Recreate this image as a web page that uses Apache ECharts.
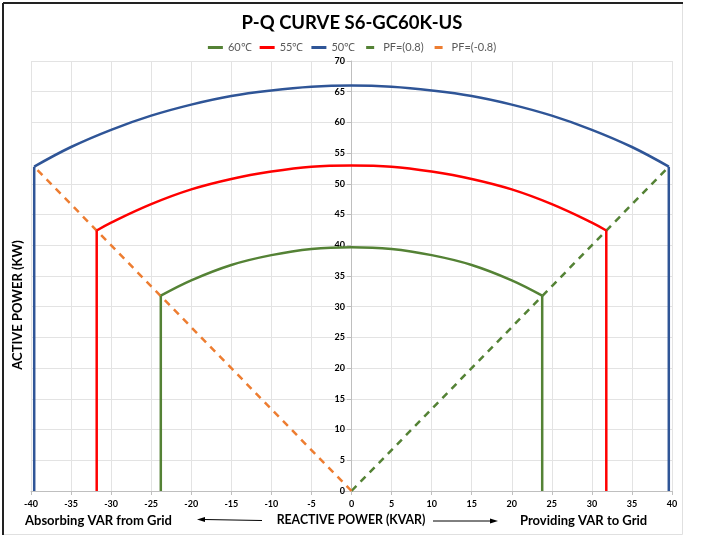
<!DOCTYPE html>
<html><head><meta charset="utf-8">
<script src="https://cdn.jsdelivr.net/npm/echarts@6/dist/echarts.min.js"></script>
<style>html,body{margin:0;padding:0;background:#fff}#c{width:704px;height:538px}</style>
</head><body><div id="c"></div>
<script>
// Tick labels
const xTicks = [-40,-35,-30,-25,-20,-15,-10,-5,0,5,10,15,20,25,30,35,40];
const yTicks = [0,5,10,15,20,25,30,35,40,45,50,55,60,65,70];

// Arc points (reactive power Q, active power P)
const q60 = [-23.8,-20,-15,-10,-5,0,5,10,15,20,23.8];
const p60 = [31.8,34.3,36.8,38.4,39.4,39.7,39.4,38.4,36.8,34.3,31.8];
const q55 = [-31.8,-30,-25,-20,-15,-10,-5,0,5,10,15,20,25,30,31.8];
const p55 = [42.4,43.7,46.7,49.1,50.8,52.0,52.8,53.0,52.8,52.0,50.8,49.1,46.7,43.7,42.4];
const q50 = [-39.6,-35,-30,-25,-20,-15,-10,-5,0,5,10,15,20,25,30,35,39.6];
const p50 = [52.8,56.0,58.8,61.1,62.9,64.3,65.2,65.8,66.0,65.8,65.2,64.3,62.9,61.1,58.8,56.0,52.8];

// Vertical limit lines
const v60 = {q:23.8, p:31.8};
const v55 = {q:31.8, p:42.4};
const v50 = {q:39.6, p:52.8};

// Power-factor lines
const pfPos = [[0,0],[39.6,52.8]];
const pfNeg = [[0,0],[-39.6,52.8]];

const zip = (a,b) => a.map((v,i)=>[v,b[i]]);
const FONT = 'Lato';
const C60 = '#548235', C55 = '#ff0000', C50 = '#2f5597', CORG = '#ed7d31';
const DASH_ICON = 'path://M0,0H0.01V3H0Z M3,0H11V3H3Z M14.99,0H15V3H14.99Z';

function arc(name, q, p, color){
  return {name, type:'line', data:zip(q,p), smooth:0.4, symbol:'none',
    lineStyle:{color, width:2.5}, itemStyle:{color}, z:3};
}
function vert(name, v, color){
  return [
    {name, type:'line', data:[[-v.q,0],[-v.q,v.p]], symbol:'none', lineStyle:{color,width:2.5}, itemStyle:{color}, z:3},
    {name, type:'line', data:[[v.q,0],[v.q,v.p]], symbol:'none', lineStyle:{color,width:2.5}, itemStyle:{color}, z:3}
  ];
}

const chart = echarts.init(document.getElementById('c'));
chart.setOption({
  animation:false,
  backgroundColor:'#fff',
  title:{text:'P-Q CURVE S6-GC60K-US', left:'center', top:9,
    textStyle:{fontFamily:FONT, fontSize:18.5, fontWeight:'bold', color:'#000'}},
  legend:{top:37, left:'center', itemWidth:15, itemHeight:3, itemGap:8,
    data:[
      {name:'60℃', icon:'rect'},
      {name:'55℃', icon:'rect'},
      {name:'50℃', icon:'rect'},
      {name:'PF=(0.8)', icon:DASH_ICON},
      {name:'PF=(-0.8)', icon:DASH_ICON}
    ],
    textStyle:{fontFamily:FONT, fontSize:11, color:'#595959'}},
  grid:{left:31, right:32, top:61, bottom:47},
  xAxis:{type:'value', min:xTicks[0], max:xTicks[xTicks.length-1], interval:5,
    axisLine:{lineStyle:{color:'#bfbfbf'}},
    axisTick:{show:true, length:4, lineStyle:{color:'#bfbfbf'}},
    axisLabel:{fontFamily:FONT, fontSize:9, fontWeight:'bold', color:'#000', margin:9},
    splitLine:{show:true, lineStyle:{color:'#e3e3e3'}}},
  yAxis:{type:'value', min:yTicks[0], max:yTicks[yTicks.length-1], interval:5,
    offset:-320,
    axisLine:{show:true, onZero:false, lineStyle:{color:'#bfbfbf'}},
    axisTick:{show:true, length:4, lineStyle:{color:'#bfbfbf'}},
    axisLabel:{fontFamily:FONT, fontSize:9, fontWeight:'bold', color:'#000', margin:6},
    splitLine:{show:true, lineStyle:{color:'#e3e3e3'}}},
  series:[
    arc('60℃', q60, p60, C60),
    arc('55℃', q55, p55, C55),
    arc('50℃', q50, p50, C50),
    ...vert('60℃', v60, C60),
    ...vert('55℃', v55, C55),
    ...vert('50℃', v50, C50),
    {name:'PF=(0.8)', type:'line', data:pfPos, symbol:'none',
      lineStyle:{color:C60, width:2.5, type:[7,6]}, itemStyle:{color:C60}, z:2},
    {name:'PF=(-0.8)', type:'line', data:pfNeg, symbol:'none',
      lineStyle:{color:CORG, width:2.5, type:[7,6]}, itemStyle:{color:CORG}, z:2}
  ],
  graphic:[
    {type:'rect', shape:{x:3.5,y:3.5,width:679,height:531}, style:{fill:'none', stroke:'#e0e0e0', lineWidth:1}, silent:true},
    {type:'line', shape:{x1:3,y1:3,x2:683,y2:3}, style:{stroke:'#222', lineWidth:2}},
    {type:'line', shape:{x1:3,y1:3,x2:3,y2:535}, style:{stroke:'#222', lineWidth:2}},
    {type:'text', x:18, y:305, rotation:Math.PI/2,
      style:{text:'ACTIVE POWER (KW)', fontFamily:FONT, fontSize:13, fontWeight:'bold', fill:'#000', align:'center', verticalAlign:'middle'}},
    {type:'text', x:25, y:521,
      style:{text:'Absorbing VAR from Grid', fontFamily:FONT, fontSize:13, fontWeight:'bold', fill:'#000', align:'left', verticalAlign:'middle'}},
    {type:'text', x:351, y:520,
      style:{text:'REACTIVE POWER (KVAR)', fontFamily:FONT, fontSize:12.3, fontWeight:'bold', fill:'#000', align:'center', verticalAlign:'middle'}},
    {type:'text', x:520, y:521,
      style:{text:'Providing VAR to Grid', fontFamily:FONT, fontSize:13, fontWeight:'bold', fill:'#000', align:'left', verticalAlign:'middle'}},
    {type:'line', shape:{x1:204,y1:519.5,x2:262,y2:520.5}, style:{stroke:'#000', lineWidth:1}},
    {type:'polygon', shape:{points:[[197,519.5],[205,517],[205,522]]}, style:{fill:'#000'}},
    {type:'line', shape:{x1:433,y1:521,x2:491,y2:521}, style:{stroke:'#000', lineWidth:1}},
    {type:'polygon', shape:{points:[[498,521],[490,518.5],[490,523.5]]}, style:{fill:'#000'}}
  ]
});
</script></body></html>
